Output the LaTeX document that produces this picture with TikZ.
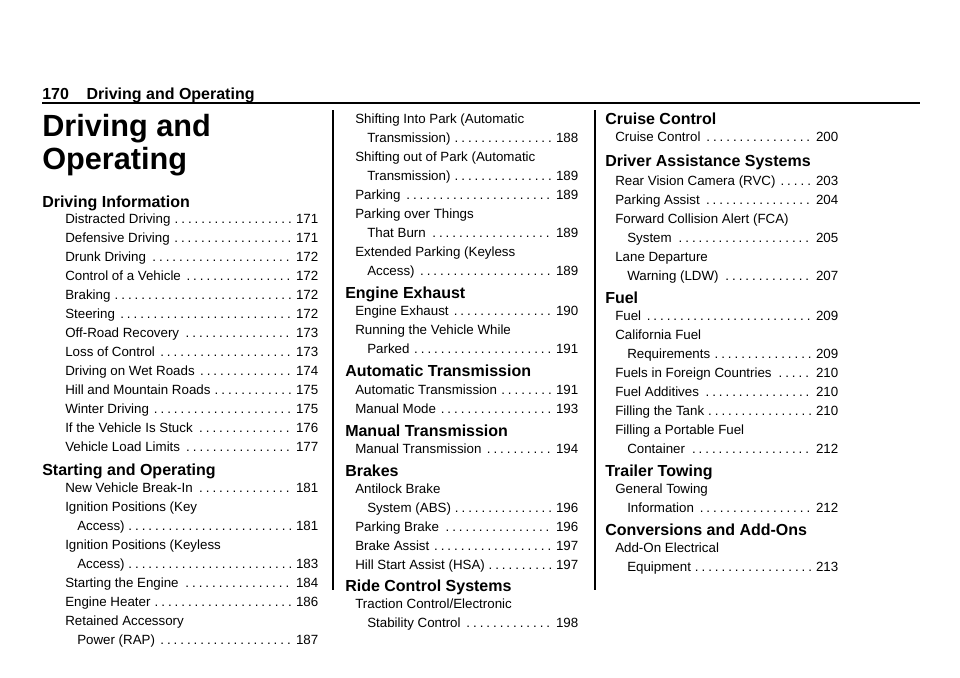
\documentclass[tikz,border=0pt]{standalone}
\usepackage{fontspec}
\setmainfont{Liberation Sans}
\newcommand{\dotlead}{\cleaders\hbox to 0.5em{\hss.\hss}\hfill}
% one line of the contents: width, text, page
\newcommand{\tocline}[3]{\edef\pg{#3}\ifx\pg\empty\makebox[#1][l]{#2}\else\makebox[#1][l]{#2\,\dotlead\,\pg}\fi}
\tikzset{entry/.style={anchor=base west,inner sep=0pt,font=\fontsize{10}{12}\selectfont},
         head/.style={anchor=base west,inner sep=0pt,font=\fontsize{12}{14}\bfseries}}

\begin{document}
\begin{tikzpicture}[x=0.75pt,y=-0.75pt]
  \useasboundingbox (0,0) rectangle (960,678);
  \node[head] (pagehead) at (42,99) {170\hspace{1.1em}Driving and Operating};
  \draw[line width=0.8pt] (42,103) -- (920,103);
  \draw[line width=0.8pt] (333,110) -- (333,590);
  \draw[line width=0.8pt] (595,110) -- (595,590);
  \node[anchor=base west,inner sep=0pt,font=\fontsize{23}{25}\bfseries] (title1) at (42,136) {Driving and};
  \node[anchor=base west,inner sep=0pt,font=\fontsize{23}{25}\bfseries] (title2) at (42,169) {Operating};
  % headings
  \foreach \x/\y/\t [count=\i] in {42/207/{Driving Information},42/475/{Starting and Operating},
      345/298/{Engine Exhaust},345/376/{Automatic Transmission},345/436/{Manual Transmission},
      345/476/{Brakes},345/591/{Ride Control Systems},
      605/124/{Cruise Control},605/166/{Driver Assistance Systems},605/303/{Fuel},
      605/476/{Trailer Towing},605/535/{Conversions and Add-Ons}}
    \node[head] (head\i) at (\x,\y) {\t};
  % first column
  \foreach \x/\y/\t/\p [count=\i] in {65/223/{Distracted Driving}/171,65/242/{Defensive Driving}/171,
      65/261/{Drunk Driving}/172,65/280/{Control of a Vehicle}/172,65/299/{Braking}/172,
      65/318/{Steering}/172,65/337/{Off-Road Recovery}/173,65/356/{Loss of Control}/173,
      65/375/{Driving on Wet Roads}/174,65/394/{Hill and Mountain Roads}/175,65/413/{Winter Driving}/175,
      65/432/{If the Vehicle Is Stuck}/176,65/451/{Vehicle Load Limits}/177,
      65/492/{New Vehicle Break-In}/181,65/511/{Ignition Positions (Key}/{},77/530/{Access)}/181,
      65/549/{Ignition Positions (Keyless}/{},77/568/{Access)}/183,65/587/{Starting the Engine}/184,
      65/606/{Engine Heater}/186,65/625/{Retained Accessory}/{},77/644/{Power (RAP)}/187}
    \node[entry] (one\i) at (\x,\y) {\pgfmathsetmacro\w{0.75*(318-\x)}\tocline{\w pt}{\t}{\p}};
  % second column
  \foreach \x/\y/\t/\p [count=\i] in {355/123/{Shifting Into Park (Automatic}/{},367/142/{Transmission)}/188,
      355/161/{Shifting out of Park (Automatic}/{},367/180/{Transmission)}/189,355/199/{Parking}/189,
      355/218/{Parking over Things}/{},367/237/{That Burn}/189,355/256/{Extended Parking (Keyless}/{},
      367/275/{Access)}/189,355/315/{Engine Exhaust}/190,355/334/{Running the Vehicle While}/{},
      367/353/{Parked}/191,355/394/{Automatic Transmission}/191,355/413/{Manual Mode}/193,
      355/453/{Manual Transmission}/194,355/493/{Antilock Brake}/{},367/512/{System (ABS)}/196,
      355/531/{Parking Brake}/196,355/550/{Brake Assist}/197,355/569/{Hill Start Assist (HSA)}/197,
      355/608/{Traction Control/Electronic}/{},367/627/{Stability Control}/198}
    \node[entry] (two\i) at (\x,\y) {\pgfmathsetmacro\w{0.75*(578-\x)}\tocline{\w pt}{\t}{\p}};
  % third column
  \foreach \x/\y/\t/\p [count=\i] in {615/141/{Cruise Control}/200,615/185/{Rear Vision Camera (RVC)}/203,
      615/204/{Parking Assist}/204,615/223/{Forward Collision Alert (FCA)}/{},627/242/{System}/205,
      615/261/{Lane Departure}/{},627/280/{Warning (LDW)}/207,615/320/{Fuel}/209,
      615/339/{California Fuel}/{},627/358/{Requirements}/209,615/377/{Fuels in Foreign Countries}/210,
      615/396/{Fuel Additives}/210,615/415/{Filling the Tank}/210,615/434/{Filling a Portable Fuel}/{},
      627/453/{Container}/212,615/493/{General Towing}/{},627/512/{Information}/212,
      615/552/{Add-On Electrical}/{},627/571/{Equipment}/213}
    \node[entry] (three\i) at (\x,\y) {\pgfmathsetmacro\w{0.75*(838-\x)}\tocline{\w pt}{\t}{\p}};
\end{tikzpicture}
\end{document}
